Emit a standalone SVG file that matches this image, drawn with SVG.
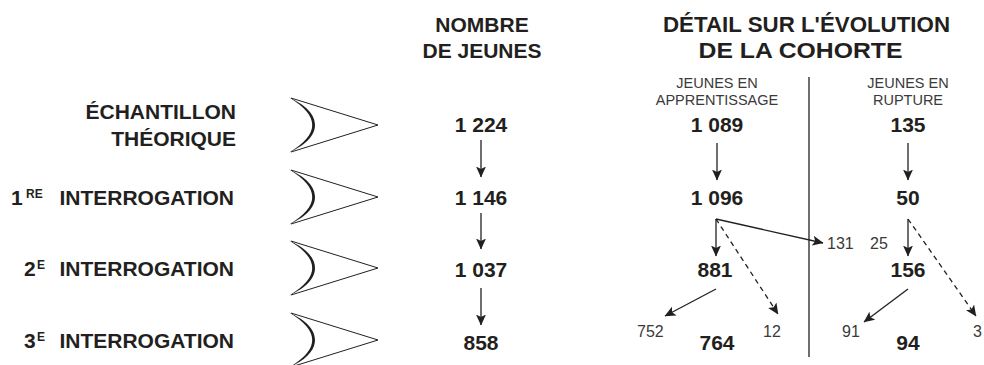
<svg xmlns="http://www.w3.org/2000/svg" width="984" height="365" viewBox="0 0 984 365">
  <style>
    text { font-family: "Liberation Sans", Arial, sans-serif; fill: #231f20; }
    .b { font-weight: bold; font-size: 21px; }
    .h { font-weight: bold; font-size: 21px; text-anchor: middle; }
    .h2 { font-weight: bold; font-size: 22px; text-anchor: middle; }
    .n { font-weight: bold; font-size: 21px; text-anchor: middle; }
    .sup { font-weight: bold; font-size: 12px; }
    .lt { font-size: 14.5px; text-anchor: middle; fill: #3a3a3a; }
    .sm { font-size: 16px; fill: #3a3a3a; }
    .cv-line { fill: none; stroke: #231f20; stroke-width: 1; }
    .cv-arc { fill: #231f20; stroke: none; }
    .arr { fill: none; stroke: #231f20; stroke-width: 1.3; marker-end: url(#head); }
    .dash { stroke-dasharray: 5 4; }
    .div { stroke: #231f20; stroke-width: 1.3; }
  </style>
  <defs>
    <marker id="head" markerUnits="userSpaceOnUse" viewBox="0 0 11 10" refX="10.5" refY="5" markerWidth="11" markerHeight="10" orient="auto">
      <path d="M0,0 L11,5 L0,10 L2.5,5 Z" fill="#231f20"/>
    </marker>
    <!-- eye-shaped pointer: two thin rays and a crescent -->
    <g id="chevron">
      <path class="cv-line" d="M291,-27 L378,0 L291,27"/>
      <path class="cv-arc" d="M289,-27.5 C308,-19 315,-9 315,0 C315,9 308,19 289,27.5 C305,18 312.2,9 312.2,0 C312.2,-9 305,-18 289,-27.5 Z"/>
    </g>
  </defs>

  <!-- column headings -->
  <g id="head-count">
    <text class="h" x="482" y="32">NOMBRE</text>
    <text class="h" x="482" y="58">DE JEUNES</text>
  </g>
  <g id="head-detail">
    <text class="h2" x="806.5" y="32" textLength="287" lengthAdjust="spacingAndGlyphs">DÉTAIL SUR L'ÉVOLUTION</text>
    <text class="h2" x="800.5" y="58" textLength="204" lengthAdjust="spacingAndGlyphs">DE LA COHORTE</text>
  </g>
  <g id="head-apprentissage">
    <text class="lt" x="717" y="88">JEUNES EN</text>
    <text class="lt" x="717" y="105">APPRENTISSAGE</text>
  </g>
  <g id="head-rupture">
    <text class="lt" x="908" y="88">JEUNES EN</text>
    <text class="lt" x="908" y="105">RUPTURE</text>
  </g>

  <!-- row labels -->
  <g id="row-sample">
    <text class="b" x="236" y="119" text-anchor="end">ÉCHANTILLON</text>
    <text class="b" x="236" y="146" text-anchor="end">THÉORIQUE</text>
    <use href="#chevron" transform="translate(0,125)"/>
  </g>
  <g id="row-1">
    <text class="b" y="205"><tspan x="11">1</tspan><tspan class="sup" x="26" y="198">RE</tspan><tspan x="234" y="205" text-anchor="end">INTERROGATION</tspan></text>
    <use href="#chevron" transform="translate(0,197)"/>
  </g>
  <g id="row-2">
    <text class="b" y="276"><tspan x="24">2</tspan><tspan class="sup" x="37" y="269">E</tspan><tspan x="234" y="276" text-anchor="end">INTERROGATION</tspan></text>
    <use href="#chevron" transform="translate(0,268)"/>
  </g>
  <g id="row-3">
    <text class="b" y="348"><tspan x="24">3</tspan><tspan class="sup" x="37" y="341">E</tspan><tspan x="234" y="348" text-anchor="end">INTERROGATION</tspan></text>
    <use href="#chevron" transform="translate(0,340)"/>
  </g>

  <!-- total counts -->
  <g id="total-0"><text class="n" x="481" y="132">1 224</text></g>
  <g id="total-1"><text class="n" x="481" y="205">1 146</text></g>
  <g id="total-2"><text class="n" x="481" y="277">1 037</text></g>
  <g id="total-3"><text class="n" x="481" y="350">858</text></g>

  <!-- apprentices -->
  <g id="app-0"><text class="n" x="717" y="132">1 089</text></g>
  <g id="app-1"><text class="n" x="717" y="205">1 096</text></g>
  <g id="app-2"><text class="n" x="715" y="277">881</text></g>
  <g id="app-3"><text class="n" x="717" y="350">764</text></g>

  <!-- dropouts -->
  <g id="rup-0"><text class="n" x="908" y="132">135</text></g>
  <g id="rup-1"><text class="n" x="908" y="205">50</text></g>
  <g id="rup-2"><text class="n" x="908" y="277">156</text></g>
  <g id="rup-3"><text class="n" x="908" y="350">94</text></g>

  <!-- flow sizes -->
  <g id="flows">
    <text class="sm" x="827" y="249">131</text>
    <text class="sm" x="870" y="249">25</text>
    <text class="sm" x="637" y="337">752</text>
    <text class="sm" x="763" y="337">12</text>
    <text class="sm" x="842" y="337">91</text>
    <text class="sm" x="973" y="337">3</text>
  </g>

  <!-- separator between the two sub-columns -->
  <line class="div" x1="809" y1="77" x2="809" y2="357"/>

  <g id="connectors">
    <path class="arr" d="M481,140 L481,177"/>
    <path class="arr" d="M481,213 L481,249"/>
    <path class="arr" d="M481,288 L481,325"/>

    <path class="arr" d="M717,143 L717,180"/>
    <path class="arr" d="M908,143 L908,180"/>

    <path class="arr" d="M716,219 L716,256"/>
    <path class="arr dash" d="M716,219 L778,314"/>
    <path class="arr" d="M716,219 L823,243"/>

    <path class="arr" d="M908,219 L908,256"/>
    <path class="arr dash" d="M908,219 L976,316"/>

    <path class="arr" d="M716,289 L665,316"/>
    <path class="arr" d="M908,289 L864,322"/>
  </g>
</svg>
